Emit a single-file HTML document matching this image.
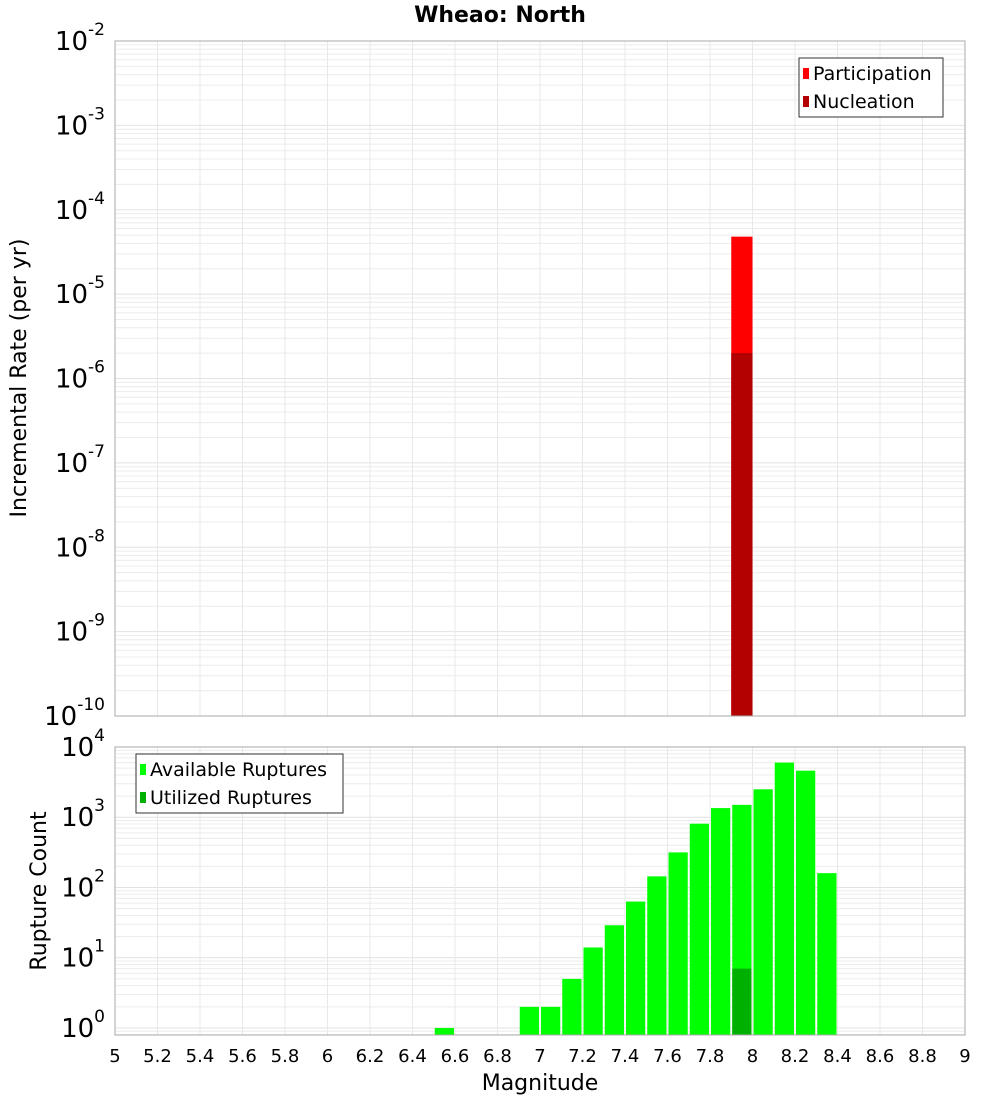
<!DOCTYPE html>
<html><head><meta charset="utf-8"><style>
body{margin:0;background:#fff;}
svg{display:block;font-family:"DejaVu Sans","Liberation Sans",sans-serif;}
</style></head><body>
<svg id="chart" width="1000" height="1100">
<text x="500" y="22" text-anchor="middle" font-size="22" font-weight="bold">Wheao: North</text>
<g id="gtop"></g><g id="gbot"></g>
<text transform="translate(26,378) rotate(-90)" text-anchor="middle" font-size="22">Incremental Rate (per yr)</text>
<text transform="translate(46,891) rotate(-90)" text-anchor="middle" font-size="22">Rupture Count</text>
<text x="540" y="1090" text-anchor="middle" font-size="22">Magnitude</text>
</svg>
<script>
const NS="http://www.w3.org/2000/svg";
const xTicks=[5,5.2,5.4,5.6,5.8,6,6.2,6.4,6.6,6.8,7,7.2,7.4,7.6,7.8,8,8.2,8.4,8.6,8.8,9];
const rateMags=[7.95];
const participation=[4.8e-5];
const nucleation=[2.0e-6];
const countMags=[6.55,6.95,7.05,7.15,7.25,7.35,7.45,7.55,7.65,7.75,7.85,7.95,8.05,8.15,8.25,8.35];
const available=[1,2,2,5,14,29,63,144,316,810,1350,1500,2500,6000,4600,160];
const utilizedMags=[7.95];
const utilized=[7];

const X0=115,X1=965;
const xs=m=>X0+(m-5)/4*(X1-X0);
function el(p,tag,a,name){const e=document.createElementNS(NS,tag);for(const k in a)e.setAttribute(k,a[k]);


p.appendChild(e);return e;}

function panel(g,y0,y1,lmin,lmax,prefix){
  const ys=v=>y1-(Math.log10(v)-lmin)/(lmax-lmin)*(y1-y0);
  for(let d=Math.floor(lmin);d<lmax;d++){for(let k=1;k<10;k++){const v=k*Math.pow(10,d);const L=Math.log10(v);if(L<lmin||L>lmax)continue;
    const y=ys(v);el(g,'line',{x1:X0,x2:X1,y1:y,y2:y,stroke:k==1?'#e2e2e2':'#ececec','stroke-width':1},prefix+'-grid-h');}}
  xTicks.forEach(t=>{const x=xs(t);el(g,'line',{x1:x,x2:x,y1:y0,y2:y1,stroke:'#e8e8e8','stroke-width':1},prefix+'-grid-v');});
  for(let d=Math.ceil(lmin);d<=lmax;d++){const y=ys(Math.pow(10,d));
    const t=el(g,'text',{x:X0-10,y:y+9,'text-anchor':'end','font-size':26},prefix+'-y-tick-label');
    t.textContent='10';const s=document.createElementNS(NS,'tspan');s.setAttribute('dy',-15);s.setAttribute('font-size',17);s.textContent=String(d);t.appendChild(s);}
  return ys;
}
const gTop=document.getElementById('gtop'),gBot=document.getElementById('gbot');
const ysT=panel(gTop,41,716,-10,-2,'top');
rateMags.forEach((m,i)=>{
  el(gTop,'rect',{x:xs(m-0.05),y:ysT(participation[i]),width:xs(m+0.05)-xs(m-0.05),height:716-ysT(participation[i]),fill:'#ff0000'},'participation-bar');
  el(gTop,'rect',{x:xs(m-0.05),y:ysT(nucleation[i]),width:xs(m+0.05)-xs(m-0.05),height:716-ysT(nucleation[i]),fill:'#b30000'},'nucleation-bar');
});
el(gTop,'rect',{x:X0,y:41,width:X1-X0,height:675,fill:'none',stroke:'#aaa'},'top-plot-frame');
const ysB=panel(gBot,747,1035,-0.1,4,'bottom');
countMags.forEach((m,i)=>{
  el(gBot,'rect',{x:xs(m-0.05)+1,y:ysB(available[i]),width:xs(m+0.05)-xs(m-0.05)-2,height:1035-ysB(available[i]),fill:'#00ff00'},'available-bar');
});
utilizedMags.forEach((m,i)=>{
  el(gBot,'rect',{x:xs(m-0.05)+1,y:ysB(utilized[i]),width:xs(m+0.05)-xs(m-0.05)-2,height:1035-ysB(utilized[i]),fill:'#00b000'},'utilized-bar');
});
el(gBot,'rect',{x:X0,y:747,width:X1-X0,height:288,fill:'none',stroke:'#aaa'},'bottom-plot-frame');
xTicks.forEach(t=>{const e=el(gBot,'text',{x:xs(t),y:1062,'text-anchor':'middle','font-size':18},'x-tick-label');e.textContent=String(t);});
function legend(g,x,y,w,items,prefix){
  el(g,'rect',{x:x,y:y,width:w,height:59,fill:'#fff',stroke:'#333'},prefix+'-legend');
  items.forEach((it,i)=>{const cy=y+15+i*28;
    el(g,'rect',{x:x+4,y:cy-5,width:6,height:11,fill:it[1]},prefix+'-legend-swatch');
    const t=el(g,'text',{x:x+14,y:cy+7,'font-size':19},prefix+'-legend-label');t.textContent=it[0];});
}
legend(gTop,799,58,144,[['Participation','#ff0000'],['Nucleation','#b30000']],'top');
legend(gBot,136,754,207,[['Available Ruptures','#00ff00'],['Utilized Ruptures','#00b000']],'bottom');
</script>
</body></html>
